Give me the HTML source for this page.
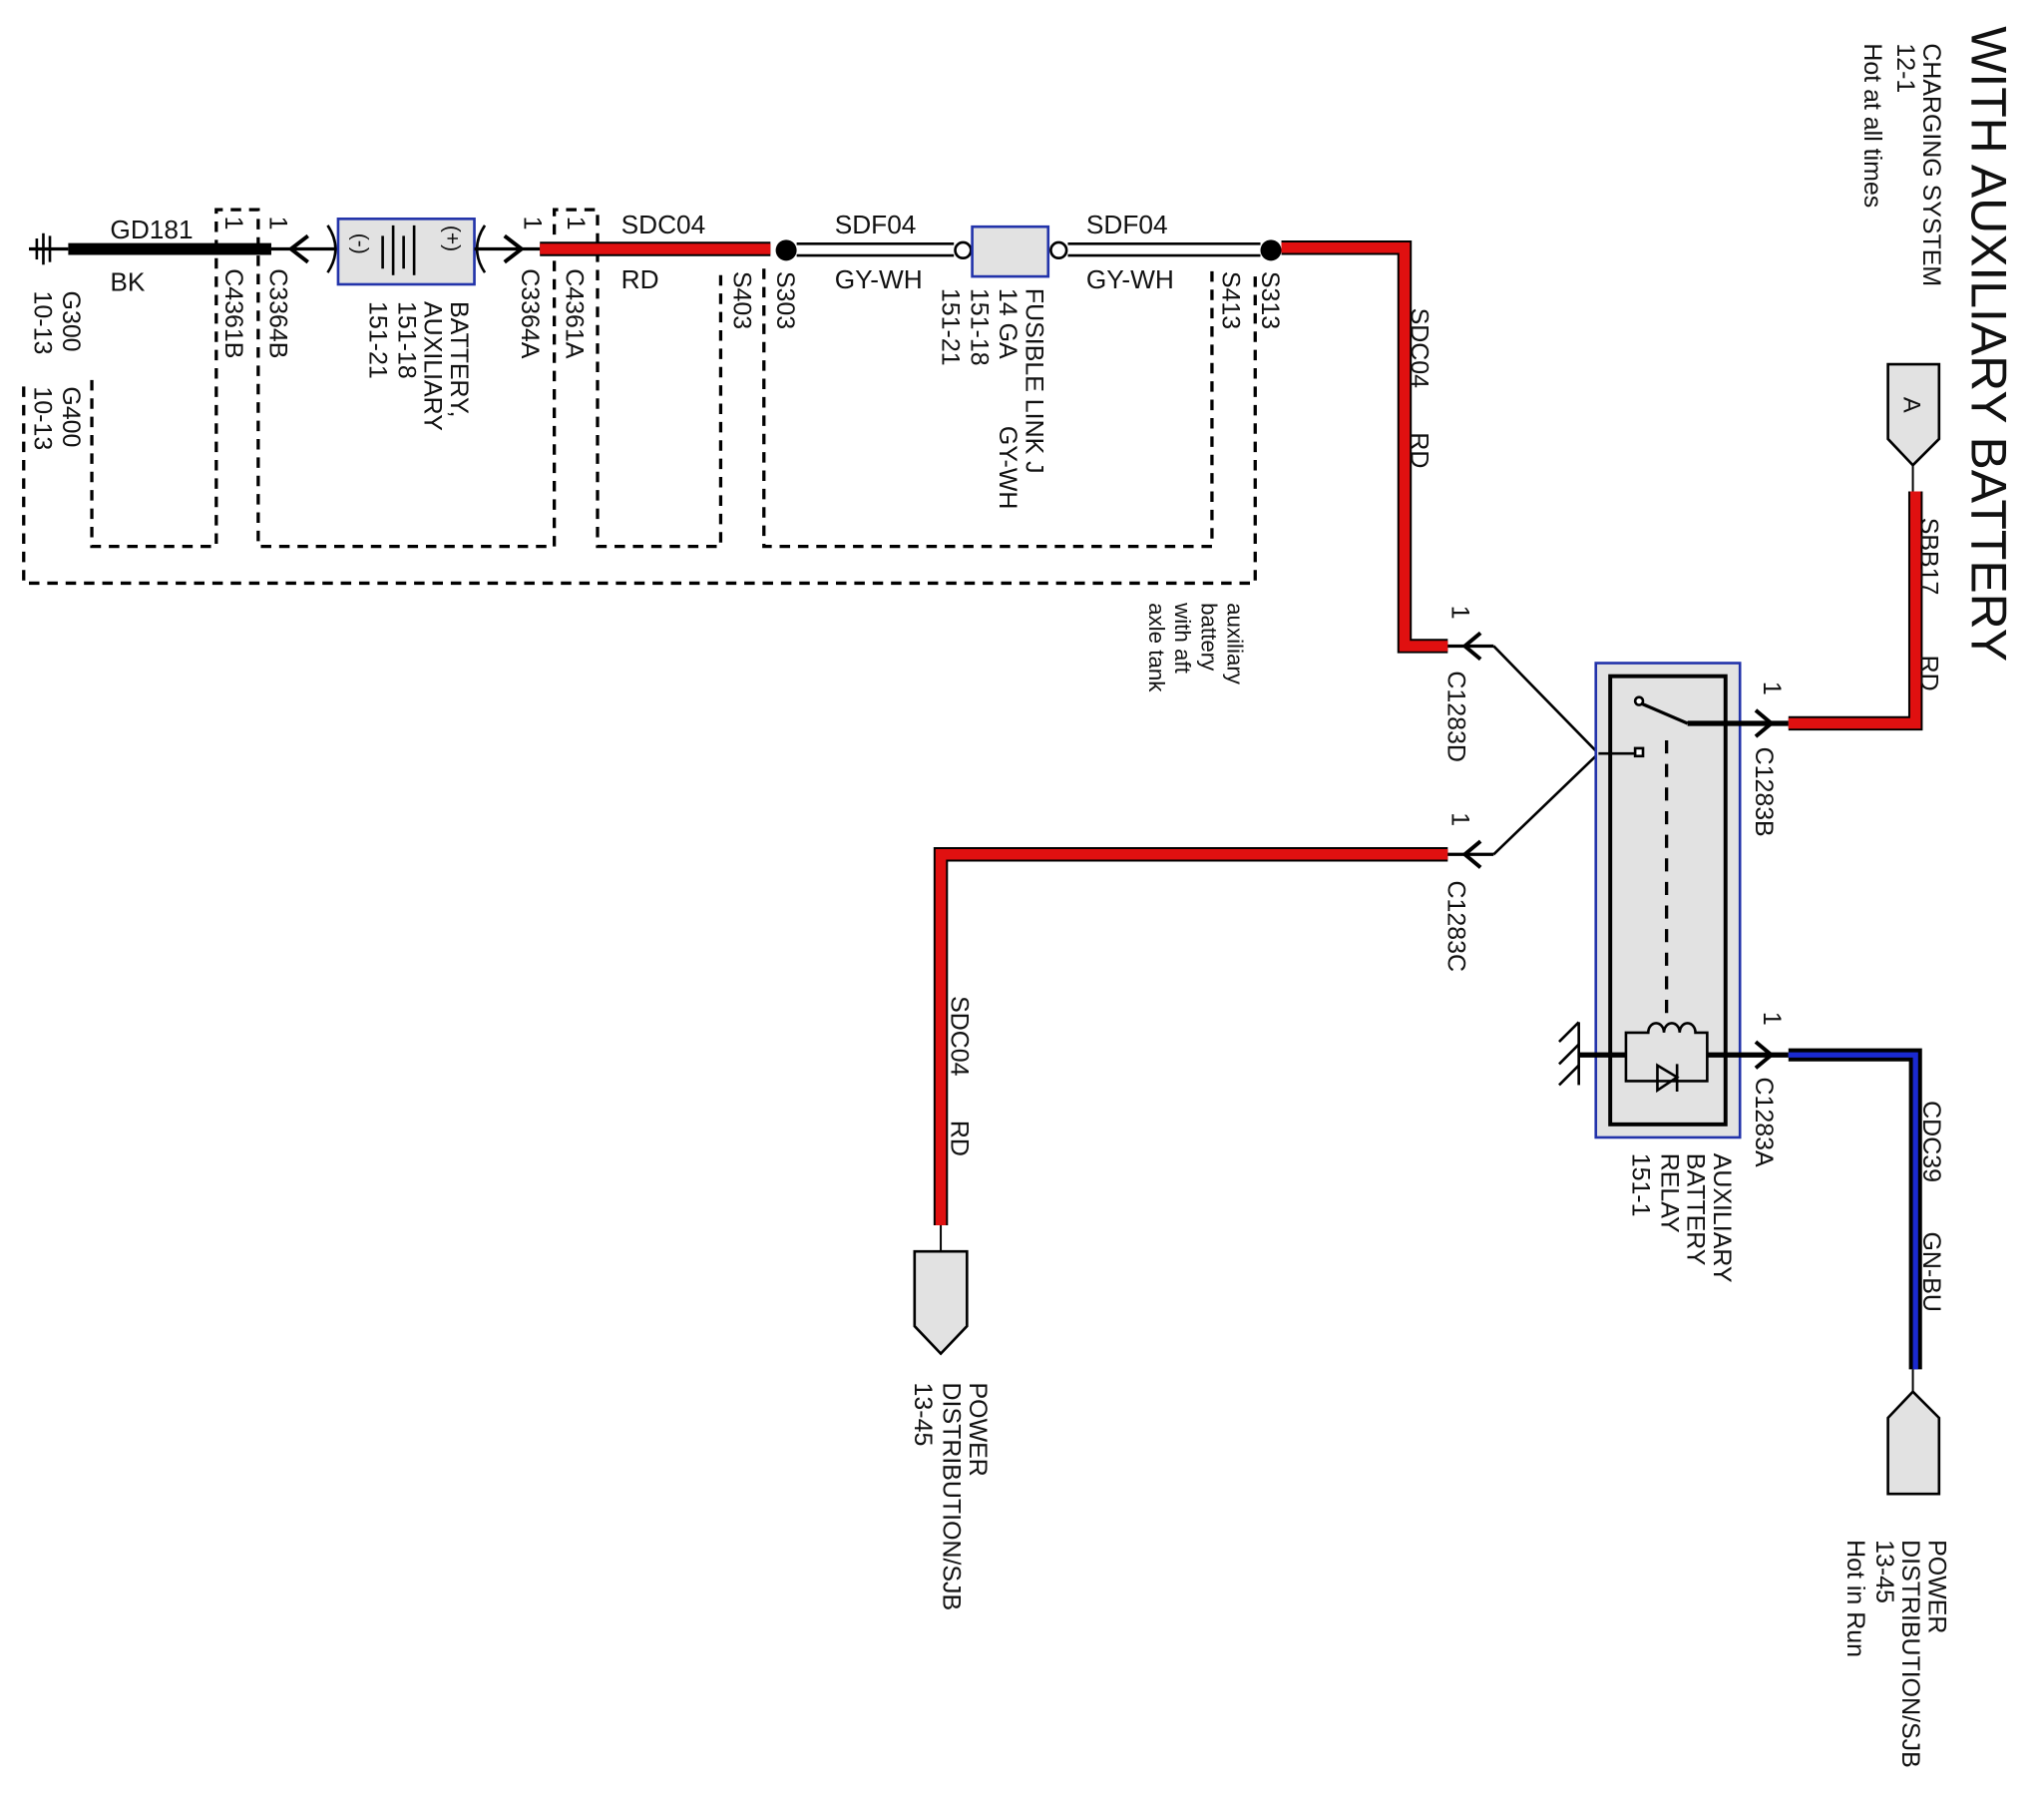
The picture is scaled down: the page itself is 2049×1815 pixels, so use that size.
<!DOCTYPE html>
<html><head><meta charset="utf-8"><style>
html,body{margin:0;padding:0;background:#fff;}
svg{display:block;}
text{font-family:"Liberation Sans",Arial,sans-serif;fill:#111;}
</style></head><body>
<svg width="2049" height="1815" viewBox="0 0 1560 1382" xmlns="http://www.w3.org/2000/svg">
<rect width="1560" height="1382" fill="#fff"/>
<!-- dashed boxes -->
<g fill="none" stroke="#000" stroke-width="2.5" stroke-dasharray="8,6">
<path d="M18 295 V445 H958 V205"/>
<path d="M70 290 V417 H165 V160 H197 V417 H423 V160 H456 V417 H550 V205"/>
<path d="M583 205 V417 H925 V205"/>
</g>
<!-- ground -->
<line x1="22" y1="190" x2="52" y2="190" stroke="#000" stroke-width="2.5"/>
<line x1="33" y1="178" x2="33" y2="202" stroke="#000" stroke-width="2"/>
<line x1="28" y1="182" x2="28" y2="198" stroke="#000" stroke-width="2"/>
<line x1="38" y1="180" x2="38" y2="200" stroke="#000" stroke-width="2"/>
<line x1="52" y1="190" x2="207" y2="190" stroke="#000" stroke-width="9"/>
<line x1="207" y1="190" x2="258" y2="190" stroke="#000" stroke-width="2.5"/>
<path d="M235 180 L222 190 L235 200" fill="none" stroke="#000" stroke-width="3"/>
<path d="M250 172 Q262 190 250 208" fill="none" stroke="#000" stroke-width="2"/>
<!-- battery -->
<rect x="258" y="167" width="104" height="50" fill="#e2e2e2" stroke="#2233aa" stroke-width="2"/>
<g stroke="#000" stroke-width="2">
<line x1="292" y1="180" x2="292" y2="205"/><line x1="300" y1="172" x2="300" y2="210"/>
<line x1="308" y1="180" x2="308" y2="205"/><line x1="316" y1="172" x2="316" y2="210"/>
</g>
<text x="270" y="178" font-size="16" transform="rotate(90 270 178)">(-)</text>
<text x="340" y="172" font-size="16" transform="rotate(90 340 172)">(+)</text>
<path d="M370 172 Q358 190 370 208" fill="none" stroke="#000" stroke-width="2"/>
<line x1="362" y1="190" x2="412" y2="190" stroke="#000" stroke-width="2.5"/>
<path d="M385 180 L398 190 L385 200" fill="none" stroke="#000" stroke-width="3"/>
<!-- red top -->
<line x1="412" y1="190" x2="588" y2="190" stroke="#000" stroke-width="11"/>
<line x1="412" y1="190" x2="588" y2="190" stroke="#e01010" stroke-width="8"/>
<circle cx="600" cy="191" r="8" fill="#000"/>
<g stroke="#000" stroke-width="2">
<line x1="608" y1="186" x2="728" y2="186"/><line x1="608" y1="195" x2="728" y2="195"/>
<line x1="815" y1="186" x2="962" y2="186"/><line x1="815" y1="195" x2="962" y2="195"/>
</g>
<circle cx="735" cy="191" r="6" fill="#fff" stroke="#000" stroke-width="2"/>
<rect x="742" y="173" width="58" height="38" fill="#e2e2e2" stroke="#2233aa" stroke-width="2"/>
<circle cx="808" cy="191" r="6" fill="#fff" stroke="#000" stroke-width="2"/>
<circle cx="970" cy="191" r="8" fill="#000"/>
<!-- red to relay D -->
<path d="M978 189 H1072 V493 H1105" fill="none" stroke="#000" stroke-width="11"/>
<path d="M978 189 H1072 V493 H1105" fill="none" stroke="#e01010" stroke-width="8"/>
<path d="M1105 652 H718 V935" fill="none" stroke="#000" stroke-width="11"/>
<path d="M1105 652 H718 V935" fill="none" stroke="#e01010" stroke-width="8"/>
<line x1="718" y1="935" x2="718" y2="955" stroke="#000" stroke-width="1.5"/>
<!-- C1283D/C arrows -->
<line x1="1105" y1="493" x2="1140" y2="493" stroke="#000" stroke-width="2.5"/>
<path d="M1130 483 L1118 493 L1130 503" fill="none" stroke="#000" stroke-width="3"/>
<line x1="1105" y1="652" x2="1140" y2="652" stroke="#000" stroke-width="2.5"/>
<path d="M1130 642 L1118 652 L1130 662" fill="none" stroke="#000" stroke-width="3"/>
<line x1="1140" y1="493" x2="1220" y2="575" stroke="#000" stroke-width="2"/>
<line x1="1140" y1="652" x2="1220" y2="575" stroke="#000" stroke-width="2"/>
<!-- relay -->
<rect x="1218" y="506" width="110" height="362" fill="#e2e2e2" stroke="#2233aa" stroke-width="2"/>
<rect x="1229" y="516" width="88" height="342" fill="none" stroke="#000" stroke-width="3"/>
<line x1="1220" y1="575" x2="1250" y2="575" stroke="#000" stroke-width="2"/>
<rect x="1248" y="571" width="6" height="6" fill="#fff" stroke="#000" stroke-width="2"/>
<circle cx="1251" cy="535" r="3" fill="#fff" stroke="#000" stroke-width="2"/>
<line x1="1253" y1="537" x2="1288" y2="552" stroke="#000" stroke-width="2.5"/>
<line x1="1288" y1="552" x2="1365" y2="552" stroke="#000" stroke-width="4"/>
<path d="M1340 542 L1352 552 L1340 562" fill="none" stroke="#000" stroke-width="3"/>
<line x1="1272" y1="565" x2="1272" y2="780" stroke="#000" stroke-width="2.5" stroke-dasharray="10,8"/>
<path d="M1241 788 H1258 a5 6 0 0 1 12 0 a5 6 0 0 1 12 0 a5 6 0 0 1 12 0 H1303 V825 H1241 Z" fill="none" stroke="#000" stroke-width="2"/>
<path d="M1265 813 L1280 822 L1265 832 Z M1280 812 V833" fill="none" stroke="#000" stroke-width="2"/>
<line x1="1205" y1="805" x2="1241" y2="805" stroke="#000" stroke-width="4"/>
<line x1="1303" y1="805" x2="1365" y2="805" stroke="#000" stroke-width="4"/>
<path d="M1340 795 L1352 805 L1340 815" fill="none" stroke="#000" stroke-width="3"/>
<g stroke="#000" stroke-width="2"><line x1="1205" y1="780" x2="1205" y2="828"/><line x1="1190" y1="795" x2="1205" y2="780"/><line x1="1190" y1="812" x2="1205" y2="797"/><line x1="1190" y1="828" x2="1205" y2="813"/></g>
<!-- SBB17 -->
<path d="M1365 552 H1462 V375" fill="none" stroke="#000" stroke-width="11"/>
<path d="M1365 552 H1462 V375" fill="none" stroke="#e01010" stroke-width="8"/>
<path d="M1441 278 H1480 V335 L1460 355 L1441 335 Z" fill="#e2e2e2" stroke="#000" stroke-width="2"/>
<line x1="1460" y1="355" x2="1460" y2="375" stroke="#000" stroke-width="1.5"/>
<text x="1453" y="303" font-size="18" transform="rotate(90 1453 303)">A</text>
<!-- CDC39 -->
<path d="M1365 805 H1462 V1045" fill="none" stroke="#000" stroke-width="10"/>
<path d="M1365 805 H1462 V1045" fill="none" stroke="#1a2ad0" stroke-width="4"/>
<line x1="1460" y1="1045" x2="1460" y2="1062" stroke="#000" stroke-width="1.5"/>
<path d="M1460 1062 L1480 1082 V1140 H1441 V1082 Z" fill="#e2e2e2" stroke="#000" stroke-width="2"/>
<path d="M698 955 H738 V1012 L718 1033 L698 1012 Z" fill="#e2e2e2" stroke="#000" stroke-width="2"/>
<!-- horizontal labels -->
<g font-size="20">
<text x="84" y="182">GD181</text><text x="84" y="222">BK</text>
<text x="474" y="178">SDC04</text><text x="474" y="220">RD</text>
<text x="637" y="178">SDF04</text><text x="637" y="220">GY-WH</text>
<text x="829" y="178">SDF04</text><text x="829" y="220">GY-WH</text>
</g>
<!-- rotated labels -->
<g font-size="19">
<text x="1505" y="20" font-size="38" transform="rotate(90 1505 20)">WITH AUXILIARY BATTERY</text>
<text x="1468" y="33" transform="rotate(90 1468 33)">CHARGING SYSTEM</text>
<text x="1448" y="33" transform="rotate(90 1448 33)">12-1</text>
<text x="1423" y="33" transform="rotate(90 1423 33)">Hot at all times</text>
<text x="1466" y="395" transform="rotate(90 1466 395)">SBB17</text>
<text x="1466" y="500" transform="rotate(90 1466 500)">RD</text>
<text x="1468" y="840" transform="rotate(90 1468 840)">CDC39</text>
<text x="1468" y="940" transform="rotate(90 1468 940)">GN-BU</text>
<text x="1472" y="1175" transform="rotate(90 1472 1175)">POWER</text>
<text x="1452" y="1175" transform="rotate(90 1452 1175)">DISTRIBUTION/SJB</text>
<text x="1432" y="1175" transform="rotate(90 1432 1175)">13-45</text>
<text x="1410" y="1175" transform="rotate(90 1410 1175)">Hot in Run</text>
<text x="1340" y="570" transform="rotate(90 1340 570)">C1283B</text>
<text x="1340" y="822" transform="rotate(90 1340 822)">C1283A</text>
<text x="1346" y="520" transform="rotate(90 1346 520)">1</text>
<text x="1346" y="772" transform="rotate(90 1346 772)">1</text>
<text x="1308" y="880" transform="rotate(90 1308 880)">AUXILIARY</text>
<text x="1288" y="880" transform="rotate(90 1288 880)">BATTERY</text>
<text x="1268" y="880" transform="rotate(90 1268 880)">RELAY</text>
<text x="1246" y="880" transform="rotate(90 1246 880)">151-1</text>
<text x="1105" y="512" transform="rotate(90 1105 512)">C1283D</text>
<text x="1105" y="672" transform="rotate(90 1105 672)">C1283C</text>
<text x="1108" y="462" transform="rotate(90 1108 462)">1</text>
<text x="1108" y="620" transform="rotate(90 1108 620)">1</text>
<text x="1077" y="235" transform="rotate(90 1077 235)">SDC04</text>
<text x="1077" y="330" transform="rotate(90 1077 330)">RD</text>
<text x="726" y="760" transform="rotate(90 726 760)">SDC04</text>
<text x="726" y="855" transform="rotate(90 726 855)">RD</text>
<text x="740" y="1055" transform="rotate(90 740 1055)">POWER</text>
<text x="720" y="1055" transform="rotate(90 720 1055)">DISTRIBUTION/SJB</text>
<text x="698" y="1055" transform="rotate(90 698 1055)">13-45</text>
<text x="937" y="460" font-size="17" transform="rotate(90 937 460)">auxiliary</text>
<text x="917" y="460" font-size="17" transform="rotate(90 917 460)">battery</text>
<text x="897" y="460" font-size="17" transform="rotate(90 897 460)">with aft</text>
<text x="877" y="460" font-size="17" transform="rotate(90 877 460)">axle tank</text>
<text x="963" y="207" transform="rotate(90 963 207)">S313</text>
<text x="933" y="207" transform="rotate(90 933 207)">S413</text>
<text x="593" y="207" transform="rotate(90 593 207)">S303</text>
<text x="560" y="207" transform="rotate(90 560 207)">S403</text>
<text x="783" y="220" transform="rotate(90 783 220)">FUSIBLE LINK J</text>
<text x="763" y="220" transform="rotate(90 763 220)">14 GA</text>
<text x="763" y="325" transform="rotate(90 763 325)">GY-WH</text>
<text x="741" y="220" transform="rotate(90 741 220)">151-18</text>
<text x="719" y="220" transform="rotate(90 719 220)">151-21</text>
<text x="432" y="205" transform="rotate(90 432 205)">C4361A</text>
<text x="398" y="205" transform="rotate(90 398 205)">C3364A</text>
<text x="400" y="165" transform="rotate(90 400 165)">1</text>
<text x="433" y="165" transform="rotate(90 433 165)">1</text>
<text x="344" y="230" transform="rotate(90 344 230)">BATTERY,</text>
<text x="324" y="230" transform="rotate(90 324 230)">AUXILIARY</text>
<text x="304" y="230" transform="rotate(90 304 230)">151-18</text>
<text x="282" y="230" transform="rotate(90 282 230)">151-21</text>
<text x="206" y="205" transform="rotate(90 206 205)">C3364B</text>
<text x="172" y="205" transform="rotate(90 172 205)">C4361B</text>
<text x="206" y="165" transform="rotate(90 206 165)">1</text>
<text x="172" y="165" transform="rotate(90 172 165)">1</text>
<text x="48" y="222" transform="rotate(90 48 222)">G300</text>
<text x="26" y="222" transform="rotate(90 26 222)">10-13</text>
<text x="48" y="295" transform="rotate(90 48 295)">G400</text>
<text x="26" y="295" transform="rotate(90 26 295)">10-13</text>
</g>
</svg>
</body></html>
